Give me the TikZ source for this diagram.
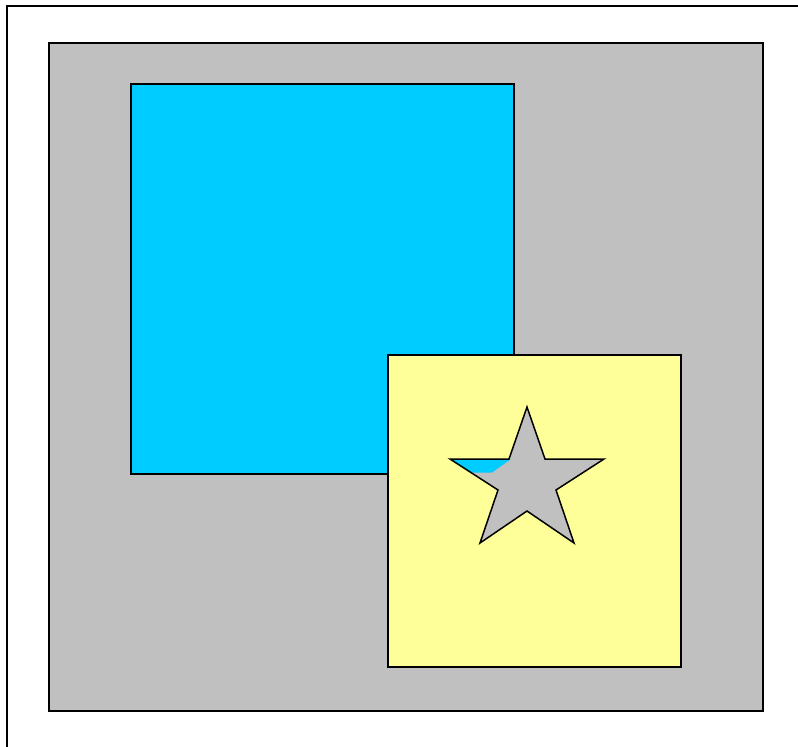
\documentclass[tikz,border=0pt]{standalone}
\begin{document}
\begin{tikzpicture}[x=1pt,y=-1pt,
  edge/.style={draw=black,line width=1.5pt,line join=miter}]
\definecolor{grayfill}{HTML}{C0C0C0}
\definecolor{cyanfill}{HTML}{00CCFF}
\definecolor{yellowfill}{HTML}{FFFF99}
\useasboundingbox (0,0) rectangle (798,747);
\fill[white] (0,0) rectangle (798,747);
% outer frame
\draw[line width=2pt] (7,747) -- (7,6) -- (798,6);
% gray background
\filldraw[edge,fill=grayfill] (49,43) rectangle (763,711);
% cyan square
\filldraw[edge,fill=cyanfill] (131,84) rectangle (514,474);
% yellow square with star hole
\filldraw[edge,fill=yellowfill] (388,355) rectangle (681,667);
\fill[grayfill] (527,407) -- (545,459) -- (604,459) -- (556,490) -- (574,543) -- (527,511) -- (480,543) -- (498,490) -- (450,459) -- (509,459) -- cycle;
\fill[cyanfill] (450,459) -- (511,459) -- (492,472.5) -- (471,472.5) -- cycle;
\draw[edge] (527,407) -- (545,459) -- (604,459) -- (556,490) -- (574,543) -- (527,511) -- (480,543) -- (498,490) -- (450,459) -- (509,459) -- cycle;
\end{tikzpicture}
\end{document}
